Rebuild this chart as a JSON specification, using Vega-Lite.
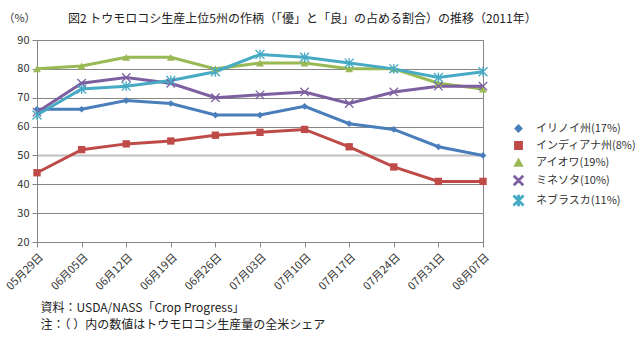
{
  "$schema": "https://vega.github.io/schema/vega-lite/v6.json",
  "width": 446,
  "height": 202,
  "autosize": "none",
  "padding": {"left": 37, "top": 40, "right": 157, "bottom": 95},
  "background": "white",
  "config": {
    "font": "Noto Sans CJK JP",
    "view": {"stroke": "#868686", "strokeWidth": 1}
  },
  "title": {
    "text": "図2 トウモロコシ生産上位5州の作柄（「優」と「良」の占める割合）の推移（2011年）",
    "anchor": "start",
    "frame": "group",
    "dx": 31,
    "offset": -14,
    "fontSize": 12,
    "fontWeight": "normal",
    "color": "#222"
  },
  "data": {"values": [
    {"d": "05月29日", "s": "イリノイ州(17%)", "v": 66},
    {"d": "06月05日", "s": "イリノイ州(17%)", "v": 66},
    {"d": "06月12日", "s": "イリノイ州(17%)", "v": 69},
    {"d": "06月19日", "s": "イリノイ州(17%)", "v": 68},
    {"d": "06月26日", "s": "イリノイ州(17%)", "v": 64},
    {"d": "07月03日", "s": "イリノイ州(17%)", "v": 64},
    {"d": "07月10日", "s": "イリノイ州(17%)", "v": 67},
    {"d": "07月17日", "s": "イリノイ州(17%)", "v": 61},
    {"d": "07月24日", "s": "イリノイ州(17%)", "v": 59},
    {"d": "07月31日", "s": "イリノイ州(17%)", "v": 53},
    {"d": "08月07日", "s": "イリノイ州(17%)", "v": 50},
    {"d": "05月29日", "s": "インディアナ州(8%)", "v": 44},
    {"d": "06月05日", "s": "インディアナ州(8%)", "v": 52},
    {"d": "06月12日", "s": "インディアナ州(8%)", "v": 54},
    {"d": "06月19日", "s": "インディアナ州(8%)", "v": 55},
    {"d": "06月26日", "s": "インディアナ州(8%)", "v": 57},
    {"d": "07月03日", "s": "インディアナ州(8%)", "v": 58},
    {"d": "07月10日", "s": "インディアナ州(8%)", "v": 59},
    {"d": "07月17日", "s": "インディアナ州(8%)", "v": 53},
    {"d": "07月24日", "s": "インディアナ州(8%)", "v": 46},
    {"d": "07月31日", "s": "インディアナ州(8%)", "v": 41},
    {"d": "08月07日", "s": "インディアナ州(8%)", "v": 41},
    {"d": "05月29日", "s": "アイオワ(19%)", "v": 80},
    {"d": "06月05日", "s": "アイオワ(19%)", "v": 81},
    {"d": "06月12日", "s": "アイオワ(19%)", "v": 84},
    {"d": "06月19日", "s": "アイオワ(19%)", "v": 84},
    {"d": "06月26日", "s": "アイオワ(19%)", "v": 80},
    {"d": "07月03日", "s": "アイオワ(19%)", "v": 82},
    {"d": "07月10日", "s": "アイオワ(19%)", "v": 82},
    {"d": "07月17日", "s": "アイオワ(19%)", "v": 80},
    {"d": "07月24日", "s": "アイオワ(19%)", "v": 80},
    {"d": "07月31日", "s": "アイオワ(19%)", "v": 75},
    {"d": "08月07日", "s": "アイオワ(19%)", "v": 73},
    {"d": "05月29日", "s": "ミネソタ(10%)", "v": 65},
    {"d": "06月05日", "s": "ミネソタ(10%)", "v": 75},
    {"d": "06月12日", "s": "ミネソタ(10%)", "v": 77},
    {"d": "06月19日", "s": "ミネソタ(10%)", "v": 75},
    {"d": "06月26日", "s": "ミネソタ(10%)", "v": 70},
    {"d": "07月03日", "s": "ミネソタ(10%)", "v": 71},
    {"d": "07月10日", "s": "ミネソタ(10%)", "v": 72},
    {"d": "07月17日", "s": "ミネソタ(10%)", "v": 68},
    {"d": "07月24日", "s": "ミネソタ(10%)", "v": 72},
    {"d": "07月31日", "s": "ミネソタ(10%)", "v": 74},
    {"d": "08月07日", "s": "ミネソタ(10%)", "v": 74},
    {"d": "05月29日", "s": "ネブラスカ(11%)", "v": 64},
    {"d": "06月05日", "s": "ネブラスカ(11%)", "v": 73},
    {"d": "06月12日", "s": "ネブラスカ(11%)", "v": 74},
    {"d": "06月19日", "s": "ネブラスカ(11%)", "v": 76},
    {"d": "06月26日", "s": "ネブラスカ(11%)", "v": 79},
    {"d": "07月03日", "s": "ネブラスカ(11%)", "v": 85},
    {"d": "07月10日", "s": "ネブラスカ(11%)", "v": 84},
    {"d": "07月17日", "s": "ネブラスカ(11%)", "v": 82},
    {"d": "07月24日", "s": "ネブラスカ(11%)", "v": 80},
    {"d": "07月31日", "s": "ネブラスカ(11%)", "v": 77},
    {"d": "08月07日", "s": "ネブラスカ(11%)", "v": 79}
  ]},
  "encoding": {
    "x": {
      "field": "d", "type": "ordinal",
      "scale": {"type": "point", "padding": 0},
      "axis": {
        "labelAngle": -45,
        "labelFontSize": 11,
        "labelColor": "#333",
        "labelPadding": 4,
        "domainColor": "#868686",
        "tickColor": "#868686",
        "tickSize": 5,
        "grid": false,
        "title": ["資料：USDA/NASS「Crop Progress」", "注：（ ）内の数値はトウモロコシ生産量の全米シェア"],
        "titleAnchor": "start",
        "titleAlign": "left",
        "titleBaseline": "top",
        "titleX": 3,
        "titleY": 60,
        "titleFontSize": 12,
        "titleFontWeight": "normal",
        "titleColor": "#222",
        "titleLineHeight": 17
      }
    },
    "y": {
      "field": "v", "type": "quantitative",
      "scale": {"domain": [20, 90], "nice": false, "zero": false},
      "axis": {
        "values": [20, 30, 40, 50, 60, 70, 80, 90],
        "labelFontSize": 11,
        "labelColor": "#333",
        "labelPadding": 3,
        "domainColor": "#868686",
        "tickColor": "#868686",
        "tickSize": 5,
        "gridColor": {"condition": {"test": "datum.value == 50", "value": "#c0c0c0"}, "value": "#868686"},
        "gridWidth": {"condition": {"test": "datum.value == 50", "value": 2}, "value": 1},
        "title": "（%）",
        "titleAngle": 0,
        "titleAlign": "center",
        "titleBaseline": "middle",
        "titleX": -18,
        "titleY": -22,
        "titleFontSize": 11,
        "titleFontWeight": "normal",
        "titleColor": "#333"
      }
    },
    "color": {
      "field": "s", "type": "nominal",
      "scale": {
        "domain": ["イリノイ州(17%)", "インディアナ州(8%)", "アイオワ(19%)", "ミネソタ(10%)", "ネブラスカ(11%)"],
        "range": ["#4A7EBB", "#BE4B48", "#98B954", "#7D60A0", "#46AAC5"]
      },
      "legend": {
        "title": null,
        "orient": "none",
        "legendX": 476,
        "legendY": 83,
        "labelFontSize": 11,
        "labelColor": "#333",
        "labelOffset": 12,
        "labelLimit": 0,
        "rowPadding": 3,
        "symbolSize": 60
      }
    }
  },
  "layer": [
    {
      "mark": {"type": "line", "strokeWidth": 3}
    },
    {
      "mark": {"type": "point", "filled": true, "opacity": 1},
      "encoding": {
        "shape": {
          "field": "s", "type": "nominal",
          "scale": {
            "domain": ["イリノイ州(17%)", "インディアナ州(8%)", "アイオワ(19%)", "ミネソタ(10%)", "ネブラスカ(11%)"],
            "range": [
              "diamond",
              "square",
              "triangle-up",
              "M-0.894,-1.106L1.106,0.894L0.894,1.106L-1.106,-0.894ZM-0.894,1.106L-1.106,0.894L0.894,-1.106L1.106,-0.894Z",
              "M-0.894,-1.106L1.106,0.894L0.894,1.106L-1.106,-0.894ZM-0.894,1.106L-1.106,0.894L0.894,-1.106L1.106,-0.894ZM-0.15,-1.1L0.15,-1.1L0.15,1.1L-0.15,1.1Z"
            ]
          },
          "legend": {
            "title": null,
            "orient": "none",
            "legendX": 476,
            "legendY": 83,
            "labelFontSize": 11,
            "labelColor": "#333",
            "labelOffset": 12,
            "labelLimit": 0,
            "rowPadding": 3,
            "symbolSize": 60
          }
        },
        "size": {
          "field": "s", "type": "nominal",
          "scale": {
            "domain": ["イリノイ州(17%)", "インディアナ州(8%)", "アイオワ(19%)", "ミネソタ(10%)", "ネブラスカ(11%)"],
            "range": [45, 80, 60, 60, 70]
          },
          "legend": null
        }
      }
    }
  ]
}
